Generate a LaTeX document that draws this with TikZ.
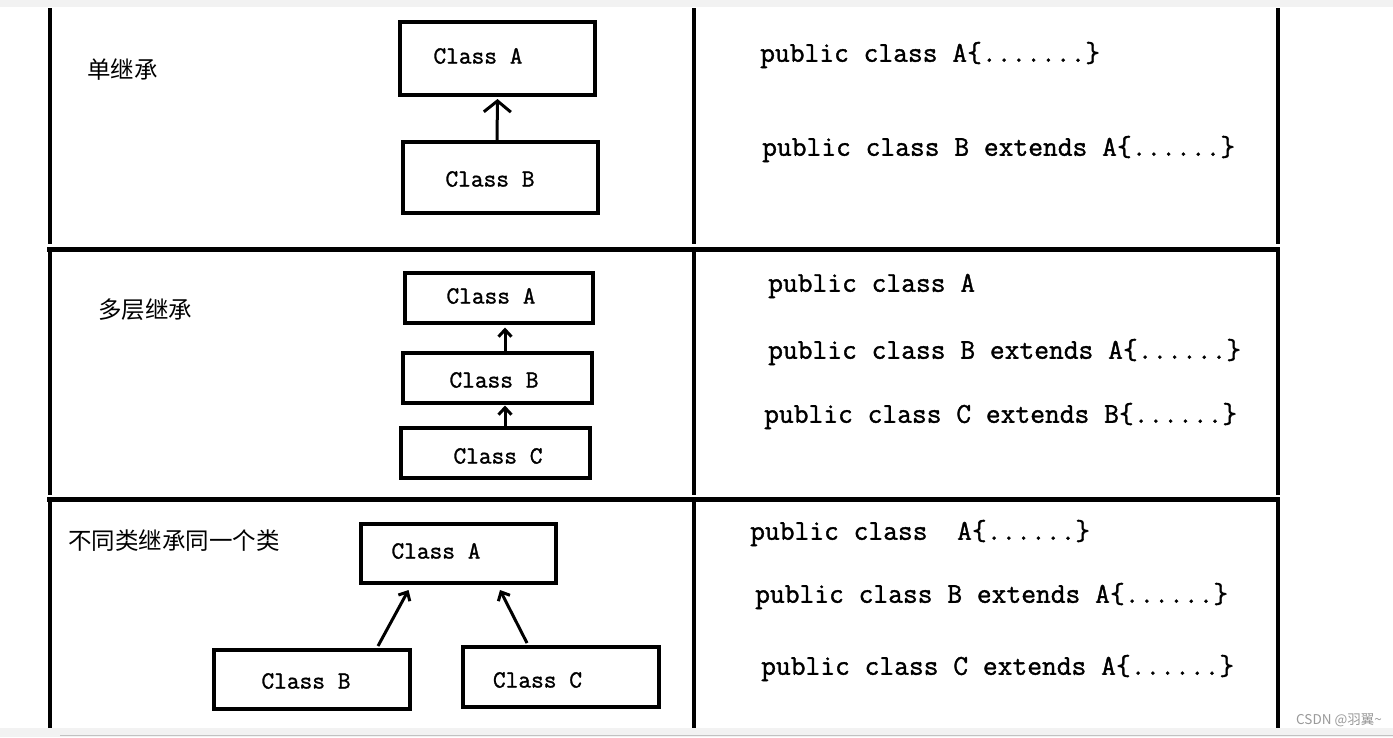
\documentclass[tikz,border=0pt]{standalone}
\usepackage{fontspec}
\newfontfamily\codefont{Latin Modern Mono}[FakeBold=1.3]
\newfontfamily\cjkfont{Noto Sans CJK SC}
\usetikzlibrary{arrows.meta, positioning}
\definecolor{barGrey}{HTML}{F2F2F2}
\definecolor{markGrey}{HTML}{9A9A9A}
\tikzset{
  rule/.style      = {line width=4.5pt, black},
  classbox/.style  = {draw, line width=4pt, minimum width=195pt, minimum height=50pt, inner sep=0pt},
  classlbl/.style  = {inner sep=0pt, font=\codefont\fontsize{24.7}{25}\selectfont},
  codelbl/.style   = {anchor=west, inner sep=0pt, font=\codefont\fontsize{28.7}{29}\selectfont},
  titlelbl/.style  = {anchor=west, inner sep=0pt, font=\cjkfont\fontsize{23.5}{24}\selectfont},
  inhbig/.style    = {line width=3pt, -{Straight Barb[length=11pt, width=27pt]}},
  inh/.style       = {line width=3pt, -{Straight Barb[length=7pt, width=13pt]}},
}

\begin{document}
\begin{tikzpicture}[x=1pt, y=-1pt]
  \useasboundingbox (0,0) rectangle (1393,737);
  \fill[white] (0,0) rectangle (1393,737);
  \fill[barGrey] (0,0) rectangle (1393,7);
  \fill[barGrey] (0,728) rectangle (1393,737);
  \draw[markGrey!60, line width=1pt] (60,735) -- (1393,735);

  % table rules
  \foreach \x in {50, 694, 1278} {
    \draw[rule] (\x,8) -- (\x,244);
    \draw[rule] (\x,252) -- (\x,495);
    \draw[rule] (\x,502) -- (\x,728);
  }
  \draw[rule] (47,249.5) -- (1280,249.5);
  \draw[rule] (47,499.5) -- (1280,499.5);

  % single inheritance
  \node[titlelbl] (t1) at (87,70) {单继承};
  \node[classbox, minimum height=73pt] (a1) at (497.5,58.5) {};
  \node[classbox, minimum height=71pt] (b1) at (500.5,177.5) {};
  \node[classlbl] (a1l) at ([xshift=-19.5pt, yshift=2.5pt]a1.center) {Class A};
  \node[classlbl] (b1l) at ([xshift=-10.5pt, yshift=-1.5pt]b1.center) {Class B};
  \draw[inhbig] ([xshift=-3.5pt]b1.north) -- ([yshift=-2pt]a1.south);
  \node[codelbl] (c11) at (760,55) {public class A\{.......\}};
  \node[codelbl] (c12) at (762,149) {public class B extends A\{......\}};

  % multilevel inheritance
  \node[titlelbl] (t2) at (98,310) {多层继承};
  \node[classbox, minimum width=188pt] (a2) at (499,297.5) {};
  \node[classbox, minimum width=189pt] (b2) at (497.5,377.5) {};
  \node[classbox, minimum width=189pt] (c2) at (495.5,452.5) {};
  \node[classlbl] (a2l) at ([xshift=-8pt, yshift=1.5pt]a2.center) {Class A};
  \node[classlbl] (b2l) at ([xshift=-3.5pt, yshift=-2.5pt]b2.center) {Class B};
  \node[classlbl] (c2l) at ([xshift=2.5pt, yshift=-3.5pt]c2.center) {Class C};
  \draw[inh] ([xshift=7.5pt]b2.north) -- ([xshift=6pt, yshift=-3pt]a2.south);
  \draw[inh] ([xshift=9.5pt]c2.north) -- ([xshift=7.5pt, yshift=-1pt]b2.south);
  \node[codelbl] (c21) at (768,286) {public class A};
  \node[codelbl] (c22) at (768,352) {public class B extends A\{......\}};
  \node[codelbl] (c23) at (764,416) {public class C extends B\{......\}};

  % several classes inherit one class
  \node[titlelbl] (t3) at (68,541) {不同类继承同一个类};
  \node[classbox, minimum height=59pt] (a3) at (458.5,553.5) {};
  \node[classbox, minimum width=196pt, minimum height=59pt] (b3) at (312,679.5) {};
  \node[classbox, minimum width=196pt, minimum height=60pt] (c3) at (561,677) {};
  \node[classlbl] (a3l) at ([xshift=-22.5pt, yshift=2.5pt]a3.center) {Class A};
  \node[classlbl] (b3l) at ([xshift=-6pt, yshift=-1.5pt]b3.center) {Class B};
  \node[classlbl] (c3l) at ([xshift=-23.5pt, yshift=-3pt]c3.center) {Class C};
  \draw[inh] ([xshift=66pt, yshift=2pt]b3.north) -- ([xshift=-50pt, yshift=-5pt]a3.south);
  \draw[inh] ([xshift=-34pt, yshift=2pt]c3.north) -- ([xshift=41.5pt, yshift=-5pt]a3.south);
  \node[codelbl] (c31) at (750,533) {public class\ \ A\{......\}};
  \node[codelbl] (c32) at (755,596) {public class B extends A\{......\}};
  \node[codelbl] (c33) at (761,668) {public class C extends A\{......\}};

  \node[anchor=west, inner sep=0pt, markGrey, font=\cjkfont\fontsize{13.5}{14}\selectfont] (mark) at (1296,720) {CSDN @羽翼\textasciitilde};
\end{tikzpicture}
\end{document}
